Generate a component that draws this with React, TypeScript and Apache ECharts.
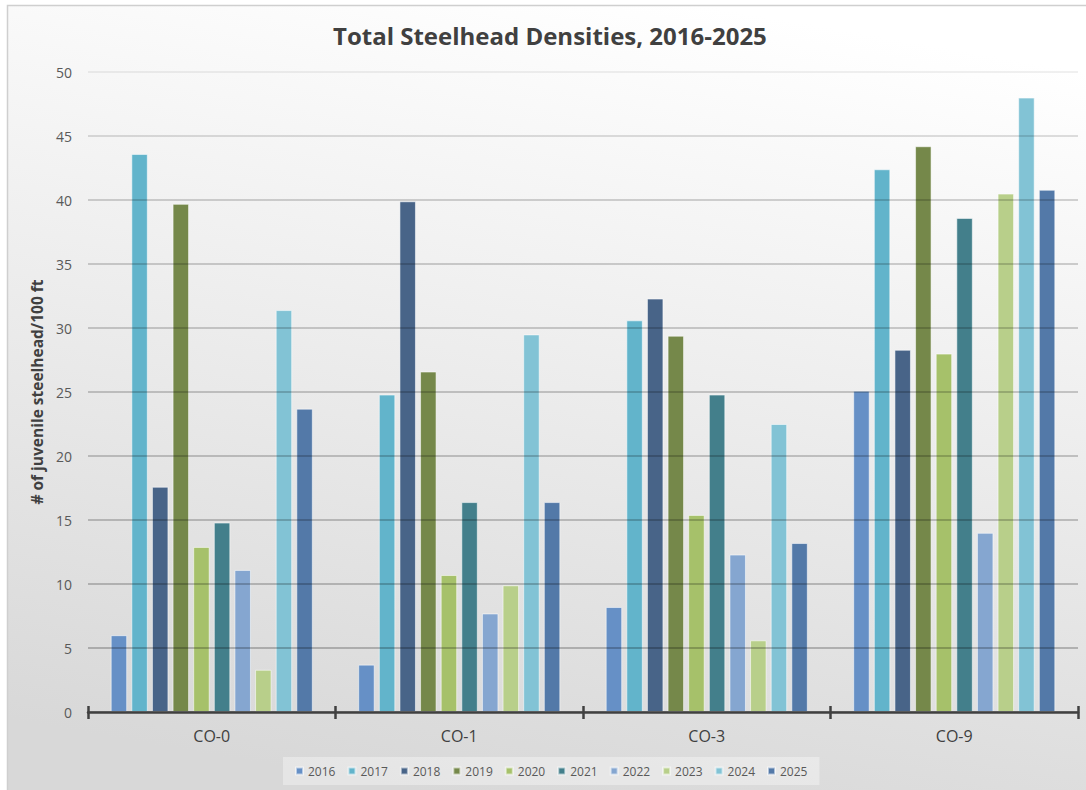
import React, { useEffect, useRef } from "react";
import * as echarts from "echarts";

const categories = ["CO-0", "CO-1", "CO-3", "CO-9"];
const years = ["2016", "2017", "2018", "2019", "2020", "2021", "2022", "2023", "2024", "2025"];

const v2016 = [6.0, 3.7, 8.2, 25.1];
const v2017 = [43.6, 24.8, 30.6, 42.4];
const v2018 = [17.6, 39.9, 32.3, 28.3];
const v2019 = [39.7, 26.6, 29.4, 44.2];
const v2020 = [12.9, 10.7, 15.4, 28.0];
const v2021 = [14.8, 16.4, 24.8, 38.6];
const v2022 = [11.1, 7.7, 12.3, 14.0];
const v2023 = [3.3, 9.9, 5.6, 40.5];
const v2024 = [31.4, 29.5, 22.5, 48.0];
const v2025 = [23.7, 16.4, 13.2, 40.8];

const seriesValues = [v2016, v2017, v2018, v2019, v2020, v2021, v2022, v2023, v2024, v2025];

const colors = [
  "#6690C6",
  "#62B4CB",
  "#486488",
  "#75884A",
  "#A6C16A",
  "#437F8B",
  "#85A6D0",
  "#B8CF8A",
  "#82C3D5",
  "#5379A8",
];

const FONT = "'Open Sans', 'Noto Sans', sans-serif";

export default function App() {
  const ref = useRef<HTMLDivElement>(null);

  useEffect(() => {
    if (!ref.current) return;
    const chart = echarts.init(ref.current, null, { renderer: "svg" });
    const option: any = {
      animation: false,
      backgroundColor: {
        type: "linear",
        x: 0.62,
        y: 0,
        x2: 0.38,
        y2: 1,
        colorStops: [
          { offset: 0, color: "#ffffff" },
          { offset: 1, color: "#d8d8d8" },
        ],
      },
      color: colors,
      textStyle: { fontFamily: FONT },
      title: {
        text: "Total Steelhead Densities, 2016-2025",
        left: 333,
        top: 23,
        padding: 0,
        textStyle: { fontFamily: FONT, fontSize: 24, fontWeight: "bold", color: "#404040" },
      },
      graphic: [
        { type: "rect", shape: { x: 0, y: 0, width: 1086, height: 5 }, style: { fill: "#ffffff" }, silent: true },
        { type: "rect", shape: { x: 0, y: 0, width: 7, height: 790 }, style: { fill: "#ffffff" }, silent: true },
        {
          type: "rect",
          shape: { x: 7.5, y: 5.5, width: 1100, height: 800 },
          style: { fill: "none", stroke: "#cfcfcf", lineWidth: 1.5 },
          silent: true,
        },
      ],
      legend: {
        data: years,
        left: 283,
        top: 757,
        padding: [8, 12, 8, 12],
        backgroundColor: "rgba(255,255,255,0.35)",
        itemWidth: 7,
        itemHeight: 7,
        itemGap: 12,
        icon: "rect",
        textStyle: { fontFamily: FONT, fontSize: 12, color: "#595959" },
      },
      grid: { left: 88, right: 8, top: 72, bottom: 78, containLabel: false },
      xAxis: [
        {
          type: "category",
          data: categories,
          z: 3,
          axisLine: { lineStyle: { color: "#404040", width: 2.5 } },
          axisTick: { show: true, length: 7, lineStyle: { color: "#404040", width: 2.5 } },
          axisLabel: { fontFamily: FONT, fontSize: 16, color: "#404040", margin: 16 },
        },
        {
          type: "category",
          data: categories,
          position: "bottom",
          z: 3,
          axisLine: { show: false },
          axisTick: { show: true, inside: true, length: 6, lineStyle: { color: "#404040", width: 2.5 } },
          axisLabel: { show: false },
        },
      ],
      yAxis: {
        type: "value",
        min: 0,
        max: 50,
        interval: 5,
        z: 3,
        name: "# of juvenile steelhead/100 ft",
        nameLocation: "middle",
        nameGap: 40,
        nameTextStyle: { fontFamily: FONT, fontSize: 15.5, fontWeight: "bold", color: "#404040" },
        axisLine: { show: false },
        axisTick: { show: false },
        axisLabel: { fontFamily: FONT, fontSize: 14, color: "#595959", margin: 16 },
        splitLine: {
          lineStyle: {
            color: [
              "rgba(0,0,0,0.3)",
              "rgba(0,0,0,0.3)",
              "rgba(0,0,0,0.28)",
              "rgba(0,0,0,0.27)",
              "rgba(0,0,0,0.26)",
              "rgba(0,0,0,0.25)",
              "rgba(0,0,0,0.24)",
              "rgba(0,0,0,0.23)",
              "rgba(0,0,0,0.22)",
              "rgba(0,0,0,0.17)",
              "rgba(0,0,0,0.08)",
            ],
            width: 1.5,
          },
        },
      },
      series: years.map((y, i) => ({
        name: y,
        type: "bar",
        xAxisIndex: 0,
        data: seriesValues[i],
        barWidth: 16.5,
        barGap: "25%",
        itemStyle: {
          color: colors[i],
          borderColor: "rgba(255,255,255,0.55)",
          borderWidth: 1,
        },
      })),
    };
    chart.setOption(option);
    return () => chart.dispose();
  }, []);

  return (
    <div
      ref={ref}
      style={{ position: "fixed", left: 0, top: 0, width: 1086, height: 790 }}
    />
  );
}
